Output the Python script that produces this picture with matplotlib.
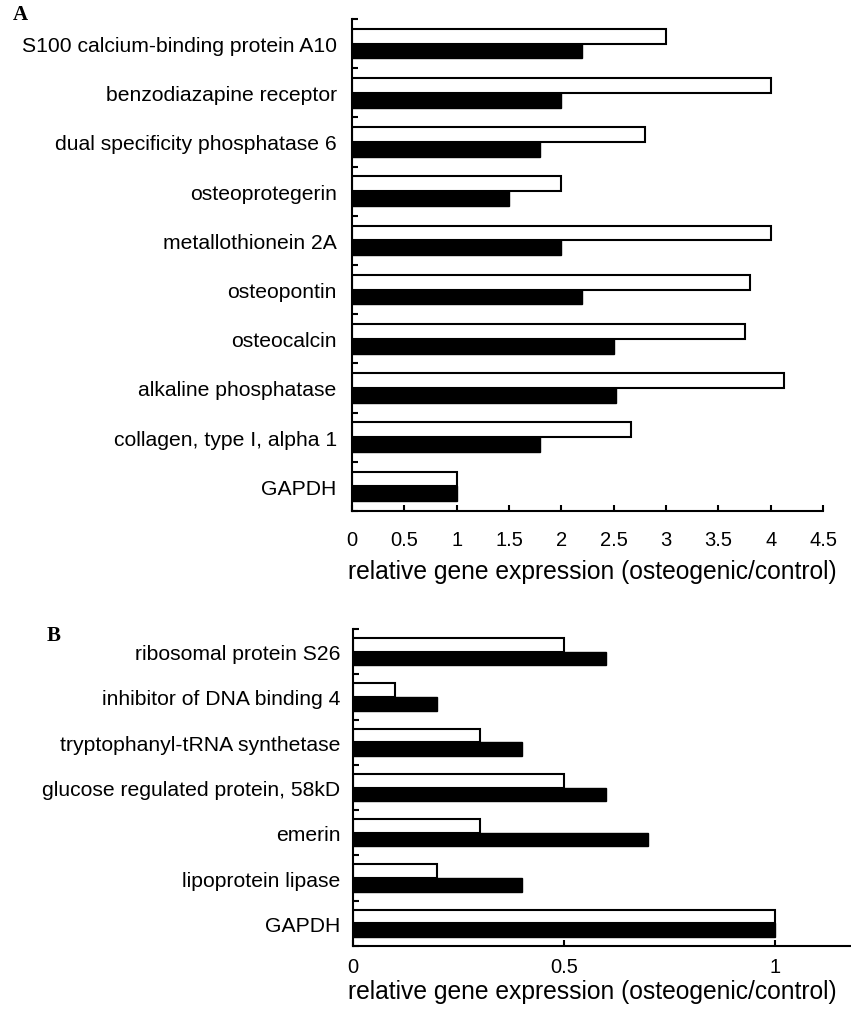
import matplotlib
matplotlib.use('Agg')
import matplotlib.pyplot as plt
import numpy as np

plt.rcParams['font.family'] = ['Liberation Sans', 'DejaVu Sans']

# panel A data
genes_a = ['S100 calcium-binding protein A10', 'benzodiazapine receptor',
           'dual specificity phosphatase 6', 'osteoprotegerin',
           'metallothionein 2A', 'osteopontin', 'osteocalcin',
           'alkaline phosphatase', 'collagen, type I, alpha 1', 'GAPDH']
white_a = [3.0, 4.0, 2.8, 2.0, 4.0, 3.8, 3.75, 4.13, 2.67, 1.0]
black_a = [2.2, 2.0, 1.8, 1.5, 2.0, 2.2, 2.5, 2.52, 1.8, 1.0]
xticks_a = [0, 0.5, 1, 1.5, 2, 2.5, 3, 3.5, 4, 4.5]
xticklabels_a = ['0', '0.5', '1', '1.5', '2', '2.5', '3', '3.5', '4', '4.5']

# panel B data
genes_b = ['ribosomal protein S26', 'inhibitor of DNA binding 4',
           'tryptophanyl-tRNA synthetase', 'glucose regulated protein, 58kD',
           'emerin', 'lipoprotein lipase', 'GAPDH']
white_b = [0.5, 0.1, 0.3, 0.5, 0.3, 0.2, 1.0]
black_b = [0.6, 0.2, 0.4, 0.6, 0.7, 0.4, 1.0]
xticks_b = [0, 0.5, 1]
xticklabels_b = ['0', '0.5', '1']

XLABEL = 'relative gene expression (osteogenic/control)'
FS_CAT = 15.2
FS_TICK = 14.5
FS_LABEL = 17.7


def draw_panel(ax, genes, white, black, xlim, xticks, xticklabels, tickpad, ypad, labelpad):
    n = len(genes)
    idx = np.arange(n)
    bh = 0.3
    ax.barh(idx + 0.2, white, height=bh, align='edge', color='white',
            edgecolor='black', linewidth=1.5)
    ax.barh(idx + 0.5, black, height=bh, align='edge', color='black',
            edgecolor='black', linewidth=1.0)
    ax.set_ylim(n, 0)
    ax.set_xlim(*xlim)
    ax.set_yticks(idx + 0.5)
    ax.set_yticklabels(genes, fontsize=FS_CAT)
    ax.set_yticks(np.arange(n + 1), minor=True)
    ax.tick_params(axis='y', which='major', length=0, pad=ypad)
    ax.tick_params(axis='y', which='minor', direction='in', length=4, width=1.5)
    ax.set_xticks(xticks)
    ax.set_xticklabels(xticklabels, fontsize=FS_TICK)
    ax.tick_params(axis='x', direction='in', length=4, width=1.5, pad=tickpad)
    ax.set_xlabel(XLABEL, fontsize=FS_LABEL, labelpad=labelpad)
    for s in ['top', 'right']:
        ax.spines[s].set_visible(False)
    for s in ['left', 'bottom']:
        ax.spines[s].set_linewidth(1.5)


fig = plt.figure(figsize=(8.51, 10.2), dpi=100)

ax_a = fig.add_axes([352 / 851, 1 - 512 / 1020, (823 - 352) / 851, (512 - 20) / 1020])
draw_panel(ax_a, genes_a, white_a, black_a, (0, 4.5), xticks_a, xticklabels_a, 14, 11, 7)
ax_a.xaxis.set_label_coords(0.51, -0.097)

ax_b = fig.add_axes([353 / 851, 1 - 947 / 1020, (851 - 353) / 851, (947 - 630) / 1020])
draw_panel(ax_b, genes_b, white_b, black_b, (0, 1.18), xticks_b, xticklabels_b, 8, 9, 5)
ax_b.xaxis.set_label_coords(0.48, -0.105)

fig.text(13 / 851, 1 - 15 / 1020, 'A', family='Liberation Serif', weight='bold',
         fontsize=15, va='center', ha='left')
fig.text(47 / 851, 1 - 636 / 1020, 'B', family='Liberation Serif', weight='bold',
         fontsize=15, va='center', ha='left')

fig.savefig('out.png', dpi=100)
